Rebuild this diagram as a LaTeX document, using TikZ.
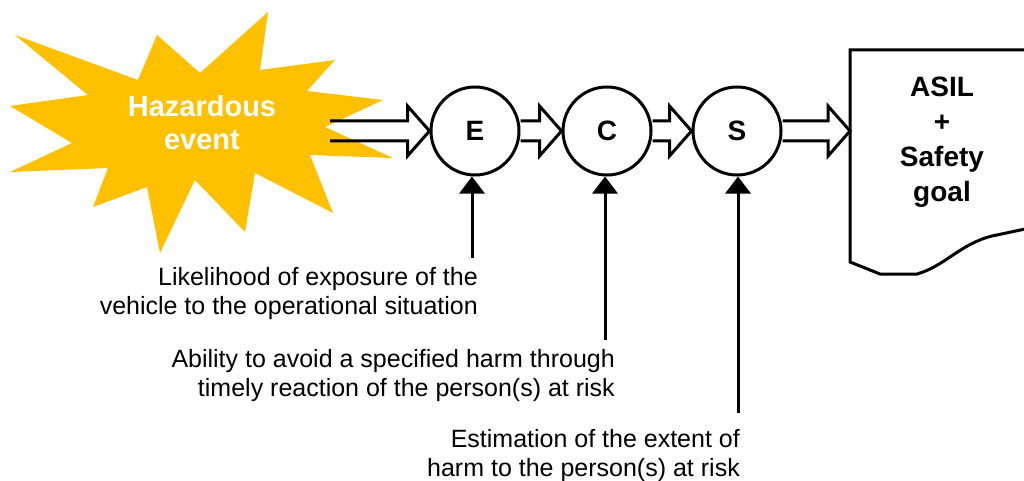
\documentclass[tikz,border=0pt]{standalone}
\usepackage{fontspec}
\setmainfont{Liberation Sans}
\usetikzlibrary{arrows.meta,calc}

\definecolor{burst}{HTML}{FFC000}

\tikzset{
  boldtxt/.style={font=\bfseries\fontsize{28}{33}\selectfont},
  rating/.style={circle, draw, line width=3pt, minimum size=88pt, inner sep=0pt,
                 fill=white, boldtxt},
  blockline/.style={line width=3pt, line join=miter},
  pointer/.style={line width=3pt, -{Triangle[length=17pt,width=25pt]}},
  note/.style={anchor=north east, align=right, inner sep=0pt,
               font=\fontsize{25}{29.5}\selectfont},
}

% hollow block arrow between two points, open at its tail
\newcommand{\blockarrow}[2]{%
  \draw[blockline] let \p1=(#1), \p2=(#2) in
    (\x1,\y2+10pt) -- (\x2-22pt,\y2+10pt) -- (\x2-22pt,\y2+25pt) -- (\x2,\y2)
    -- (\x2-22pt,\y2-25pt) -- (\x2-22pt,\y2-10pt) -- (\x1,\y2-10pt);}

\begin{document}
\begin{tikzpicture}[x=1pt,y=-1pt]
\useasboundingbox (0,0) rectangle (1024,481);

% explosion
\fill[burst] (15,35) -- (138,80) -- (157,35) -- (200,73) -- (268,12) -- (260,70)
  -- (335,60) -- (307,91) -- (383,100) -- (325,127) -- (393,158) -- (310,155)
  -- (333,213) -- (255,173) -- (245,232) -- (195,180) -- (160,253) -- (147,187)
  -- (93,207) -- (108,168) -- (10,172) -- (72,143) -- (10,106) -- (88,95) -- cycle;
\node[boldtxt, text=white, align=center, font=\bfseries\fontsize{29}{33}\selectfont]
  (hz) at (202,123) {Hazardous\\event};
\coordinate (hzout) at (330,131);

% rating circles
\node[rating] (E) at (475,131) {E};
\node[rating] (C) at (607,131) {C};
\node[rating] (S) at (737,131) {S};

% result sheet
\draw[line width=3pt] (1030,50) -- (850,50) -- (850,262) -- (880,274) -- (917,274)
  .. controls (945,266) and (960,244) .. (992,236) -- (1030,228);
\coordinate (doc) at (850,131);
\node[boldtxt, align=center, inner sep=0pt, anchor=north,
      font=\bfseries\fontsize{28}{35}\selectfont] (res) at (942,77)
  {ASIL\\+\\Safety\\goal};

% flow
\blockarrow{hzout}{E.west}
\blockarrow{E.east}{C.west}
\blockarrow{C.east}{S.west}
\blockarrow{S.east}{doc}

% parameter explanations
\coordinate (eIn) at (472,258);
\coordinate (cIn) at (605,340);
\coordinate (sIn) at (738,413);
\draw[pointer] (eIn) -- (eIn |- E.south);
\draw[pointer] (cIn) -- (cIn |- C.south);
\draw[pointer] (sIn) -- (sIn |- S.south);

\node[note] (eTxt) at (478,267) {Likelihood of exposure of the\\vehicle to the operational situation};
\node[note] (cTxt) at (615,349) {Ability to avoid a specified harm through\\timely reaction of the person(s) at risk};
\node[note] (sTxt) at (740,429) {Estimation of the extent of\\harm to the person(s) at risk};
\end{tikzpicture}
\end{document}
